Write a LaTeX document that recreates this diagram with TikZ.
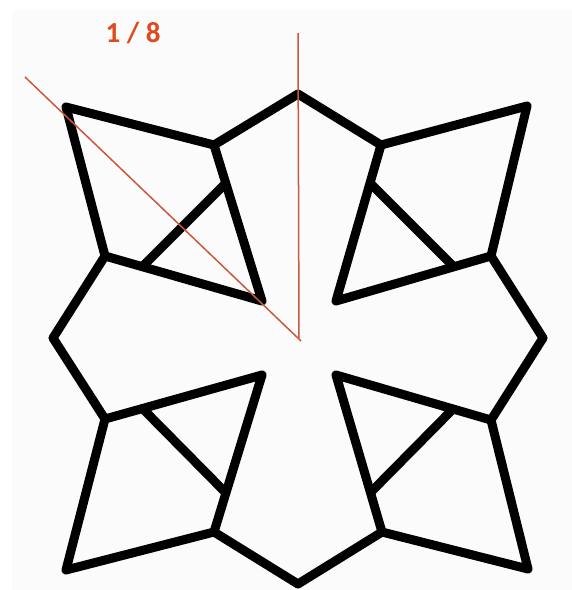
\documentclass[tikz,border=0pt]{standalone}
\usepackage{fontspec}
\setmainfont{Carlito}
\definecolor{bgpage}{HTML}{FBFBFB}
\definecolor{redline}{HTML}{C9583F}
\definecolor{redtext}{HTML}{DF4A20}
\tikzset{
  shape line/.style={draw=black,line width=9pt,line join=round,line cap=round},
  guide line/.style={draw=redline,line width=1.5pt},
  label text/.style={text=redtext,font=\bfseries\fontsize{29}{29}\selectfont,inner sep=0pt}
}
\begin{document}
\begin{tikzpicture}[x=1pt,y=-1pt]
\useasboundingbox (0,0) rectangle (572,590);
\fill[white] (0,0) rectangle (572,590);
\fill[bgpage] (12,10) rectangle (572,590);
% outline vertices
\coordinate (top) at (298,94);
\coordinate (ulA) at (214,145);
\coordinate (ulT) at (66,107);
\coordinate (ulB) at (105,256);
\coordinate (ulI) at (262,301);
\coordinate (ulC) at (143,266);
\coordinate (ulD) at (225,184);
\coordinate (left) at (53,338);
\coordinate (llB) at (105,419);
\coordinate (llI) at (262,375);
\coordinate (llC) at (143,409);
\coordinate (llD) at (225,492);
\coordinate (llA) at (214,532);
\coordinate (llT) at (66,570);
\coordinate (bottom) at (298,584);
\coordinate (lrA) at (382,532);
\coordinate (lrT) at (528,569);
\coordinate (lrB) at (491,420);
\coordinate (lrI) at (336,375);
\coordinate (lrC) at (453,409);
\coordinate (lrD) at (371,492);
\coordinate (right) at (543,338);
\coordinate (urB) at (491,256);
\coordinate (urI) at (336,301);
\coordinate (urC) at (453,266);
\coordinate (urD) at (371,184);
\coordinate (urA) at (381,145);
\coordinate (urT) at (527,106);
% black figure
\draw[shape line] (top) -- (ulA) -- (ulT) -- (ulB) -- (left) -- (llB) -- (llT) -- (llA) -- (bottom) -- (lrA) -- (lrT) -- (lrB) -- (right) -- (urB) -- (urT) -- (urA) -- cycle;
\draw[shape line] (ulA) -- (ulI) -- (ulB);
\draw[shape line] (llB) -- (llI) -- (llA);
\draw[shape line] (lrA) -- (lrI) -- (lrB);
\draw[shape line] (urA) -- (urI) -- (urB);
\draw[shape line] (ulC) -- (ulD);
\draw[shape line] (llC) -- (llD);
\draw[shape line] (lrC) -- (lrD);
\draw[shape line] (urC) -- (urD);
% red guides
\coordinate (gTop) at (298,33);
\coordinate (gApex) at (299,338);
\coordinate (gDiagS) at (25,77);
\coordinate (gDiagE) at (301,341);
\draw[guide line] (gTop) -- (gApex);
\draw[guide line] (gDiagS) -- (gDiagE);
\node[label text] (frac) at (133,33) {1 / 8};
\end{tikzpicture}
\end{document}
